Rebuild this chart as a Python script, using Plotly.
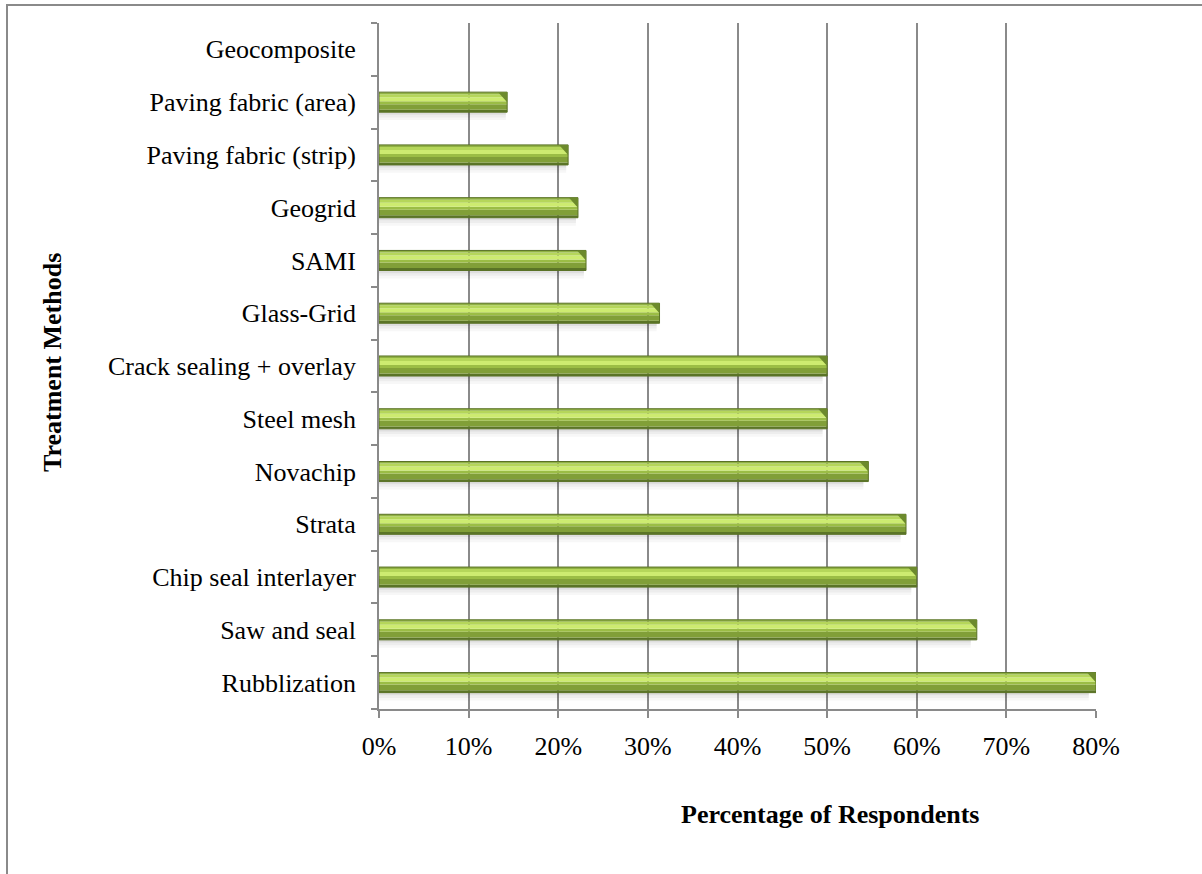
import plotly.graph_objects as go

# Survey results: share of respondents using each crack-treatment method
methods = [
    "Geocomposite",
    "Paving fabric (area)",
    "Paving fabric (strip)",
    "Geogrid",
    "SAMI",
    "Glass-Grid",
    "Crack sealing + overlay",
    "Steel mesh",
    "Novachip",
    "Strata",
    "Chip seal interlayer",
    "Saw and seal",
    "Rubblization",
]
percent = [0, 14.3, 21.1, 22.2, 23.1, 31.3, 50.0, 50.0, 54.6, 58.8, 60.0, 66.7, 80.0]
x_ticks = [0, 10, 20, 30, 40, 50, 60, 70, 80]

# plot bottom-to-top on a numeric axis so bands can be offset precisely
cats = methods[::-1]
vals = percent[::-1]
pos = list(range(len(cats)))

W, H = 1202, 874
ML, MR, MT, MB = 379, 106, 23, 165
PW, PH = W - ML - MR, H - MT - MB

FONT = "Liberation Serif, Times New Roman, serif"
GRID = "#8a8a8a"
BAR_H = 0.38

fig = go.Figure()

# soft drop shadow under each bar
for lo, hi, a in [(-0.05, 0.0, 0.13), (-0.10, -0.05, 0.07), (-0.15, -0.10, 0.03)]:
    fig.add_trace(go.Bar(
        y=pos, x=[v * 0.99 for v in vals], orientation="h",
        width=hi - lo, offset=-BAR_H / 2 + lo,
        marker=dict(color=f"rgba(0,0,0,{a})", line=dict(width=0)),
        hoverinfo="skip", showlegend=False,
    ))

# horizontal colour bands give the rounded, glossy look
bands = [
    (0.00, 0.12, "#5b7527"),
    (0.12, 0.40, "#819f38"),
    (0.40, 0.55, "#9bbd45"),
    (0.55, 0.75, "#cdeb70"),
    (0.75, 0.90, "#b5d65a"),
    (0.90, 1.00, "#90b143"),
]
for f0, f1, col in bands:
    fig.add_trace(go.Bar(
        y=pos, x=vals, orientation="h",
        width=BAR_H * (f1 - f0), offset=-BAR_H / 2 + BAR_H * f0,
        marker=dict(color=col, line=dict(width=0)),
        hoverinfo="skip", showlegend=False,
    ))

# bevelled right-hand end caps
dx = 1.0
up_x, up_y = [], []
for p, v in zip(pos, vals):
    if v <= 0:
        continue
    top = p + BAR_H / 2
    up_x += [v - dx, v, v, v - dx, None]
    up_y += [top, top, top - BAR_H * 0.5, top, None]
fig.add_trace(go.Scatter(x=up_x, y=up_y, mode="lines", fill="toself",
                         fillcolor="#6c8a2c", line=dict(width=0),
                         hoverinfo="skip", showlegend=False))

# outline
fig.add_trace(go.Bar(
    y=pos, x=vals, orientation="h", width=BAR_H,
    marker=dict(color="rgba(0,0,0,0)",
                line=dict(color="#5a7226", width=[1 if v > 0 else 0 for v in vals])),
    hoverinfo="skip", showlegend=False,
))

fig.update_layout(
    width=W, height=H,
    margin=dict(l=ML, r=MR, t=MT, b=MB, pad=0),
    paper_bgcolor="white", plot_bgcolor="white",
    barmode="overlay",
    font=dict(family=FONT, size=26, color="black"),
    xaxis=dict(
        range=[0, 80], tickvals=x_ticks, ticktext=[f"{t}%" for t in x_ticks],
        showgrid=True, gridcolor=GRID, gridwidth=1.8,
        showline=True, linecolor=GRID, linewidth=1.8,
        ticks="outside", ticklen=7, tickcolor=GRID, tickwidth=1.8,
        ticklabelstandoff=6, zeroline=False,
        tickfont=dict(family=FONT, size=26, color="black"),
    ),
    yaxis=dict(
        range=[-0.5, len(cats) - 0.5], tickvals=pos, ticktext=cats,
        showgrid=False, zeroline=False,
        showline=True, linecolor=GRID, linewidth=1.8,
        ticks="", ticklabelstandoff=16,
        minor=dict(tickvals=[p - 0.5 for p in range(len(cats) + 1)],
                   ticks="outside", ticklen=6, tickcolor=GRID, tickwidth=1.8,
                   showgrid=False),
        tickfont=dict(family=FONT, size=26, color="black"),
    ),
    shapes=[dict(
        type="rect", xref="paper", yref="paper", layer="above",
        x0=(7 - ML) / PW, x1=(W + 20 - ML) / PW,
        y0=(H - MB - (H + 20)) / PH, y1=(H - MB - 5) / PH,
        line=dict(color="#8a8a8a", width=2), fillcolor="rgba(0,0,0,0)",
    )],
    annotations=[
        dict(text="<b>Percentage of Respondents</b>", xref="paper", yref="paper",
             x=(830 - ML) / PW, y=(H - MB - 815) / PH, showarrow=False,
             xanchor="center", yanchor="middle",
             font=dict(family=FONT, size=26, color="black")),
        dict(text="<b>Treatment Methods</b>", xref="paper", yref="paper",
             x=(52 - ML) / PW, y=(H - MB - 363) / PH, showarrow=False,
             textangle=-90, xanchor="center", yanchor="middle",
             font=dict(family=FONT, size=26, color="black")),
    ],
)

fig.write_html("out.html")
